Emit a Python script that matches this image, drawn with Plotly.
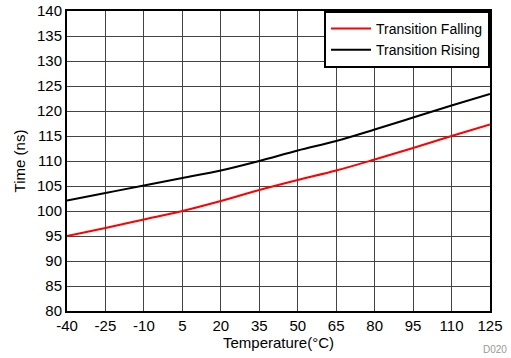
import plotly.graph_objects as go

temp = [-40, -25, -10, 5, 20, 35, 50, 65, 80, 95, 110, 125]
falling = [95.0, 96.6, 98.3, 100.0, 102.0, 104.2, 106.2, 108.1, 110.3, 112.6, 115.0, 117.3]
rising = [102.1, 103.6, 105.1, 106.6, 108.1, 110.0, 112.1, 114.0, 116.3, 118.7, 121.1, 123.4]

xticks = [-40, -25, -10, 5, 20, 35, 50, 65, 80, 95, 110, 125]
xticklabels = ["-40", "-25", "-10", "5", "20", "35", "50", "65", "80", "95", "110", "125"]
yticks = list(range(80, 141, 5))

fig = go.Figure()
fig.add_trace(go.Scatter(x=temp, y=falling, mode="lines", name="Transition Falling",
                         line=dict(color="#ff0000", width=2), line_shape="spline"))
fig.add_trace(go.Scatter(x=temp, y=rising, mode="lines", name="Transition Rising",
                         line=dict(color="#000000", width=2), line_shape="spline"))

font = "Liberation Sans, Arial, sans-serif"
fig.update_layout(
    width=511, height=358,
    margin=dict(l=67, r=21, t=11, b=47, autoexpand=False),
    paper_bgcolor="white", plot_bgcolor="white",
    font=dict(family=font, size=15, color="black"),
    showlegend=True,
    legend=dict(x=1, y=1, xanchor="right", yanchor="top",
                bordercolor="black", borderwidth=2, bgcolor="white",
                font=dict(size=14), tracegroupgap=0,
                itemwidth=40),
    xaxis=dict(range=[-40, 125], tickvals=xticks, ticktext=xticklabels,
               showgrid=True, gridcolor="#444444", gridwidth=1,
               showline=True, linecolor="black", linewidth=2, mirror=True,
               ticks="", zeroline=False, automargin=False,
               title=dict(text="Temperature(°C)", font=dict(size=15), standoff=4)),
    yaxis=dict(range=[80, 140], tickvals=yticks,
               showgrid=True, gridcolor="#444444", gridwidth=1,
               showline=True, linecolor="black", linewidth=2, mirror=True,
               ticks="", zeroline=False, automargin=False,
               title=dict(text="Time (ns)", font=dict(size=15), standoff=8)),
)
fig.add_annotation(text="D020", xref="paper", yref="paper", x=1.045, y=-0.153,
                   xanchor="right", yanchor="bottom", showarrow=False,
                   font=dict(size=10, color="#999999"))
fig.write_html("out.html", config={"displayModeBar": False},
               post_script="document.body.style.margin='0';document.body.style.padding='0';")
